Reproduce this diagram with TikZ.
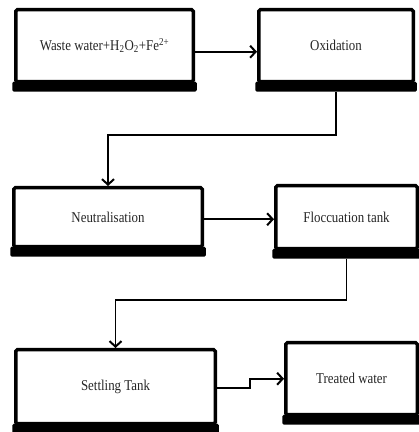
\documentclass[tikz,border=0pt]{standalone}
\usepackage{fontspec}
\setmainfont[FakeStretch=0.86]{Liberation Serif}
\usetikzlibrary{arrows.meta}
\tikzset{
  stagebox/.style={draw, line width=3.5pt, rounded corners=1.5pt, fill=white,
    inner sep=0pt, font=\fontsize{15}{17}\selectfont, text=black!85, align=center},
  flow/.style={line width=1.7pt, -{Straight Barb[length=5.5pt,width=12pt,line width=2pt]}},
}
\begin{document}
\begin{tikzpicture}[x=1pt,y=1pt]
\useasboundingbox (0,0) rectangle (419,432);
% boxes
\node[stagebox, minimum width=177.5pt, minimum height=72pt] (a) at (104.5,386.25) {Waste water+H\textsubscript{2}O\textsubscript{2}+Fe\textsuperscript{2+}};
\node[stagebox, minimum width=154.5pt, minimum height=72pt] (b) at (336,386.25) {Oxidation};
\node[stagebox, minimum width=188.5pt, minimum height=59pt] (c) at (108,214.75) {Neutralisation};
\node[stagebox, minimum width=141.5pt, minimum height=63pt] (d) at (346.5,214.75) {Floccuation tank};
\node[stagebox, minimum width=199.5pt, minimum height=74pt] (e) at (115.5,45.25) {Settling Tank};
\node[stagebox, minimum width=131.5pt, minimum height=72pt] (f) at (351.5,53.25) {Treated water};
% thick bottom bars
\foreach \n in {a,b,c,d,e,f}{
  \fill[rounded corners=1.5pt] ([xshift=-1.75pt,yshift=1.75pt]\n.south west) rectangle ([xshift=1.75pt,yshift=-8.25pt]\n.south east);
}
% connectors
\coordinate (m1) at (0,297);
\coordinate (m2) at (0,132);
\draw[flow] ([yshift=-6pt]a.east) -- ([yshift=-6pt]a.east -| b.west);
\draw[flow] ([yshift=-8.25pt]b.south) |- (m1 -| c.north) -- (c.north);
\draw[flow] ([yshift=-2pt]c.east) -- ([yshift=-2pt]c.east -| d.west);
\draw[flow] ([yshift=-8.25pt]d.south) |- (m2 -| e.north) -- (e.north);
\draw[flow] ([yshift=-1pt]e.east) -- ++(33,0) |- (f.west);
\end{tikzpicture}
\end{document}
